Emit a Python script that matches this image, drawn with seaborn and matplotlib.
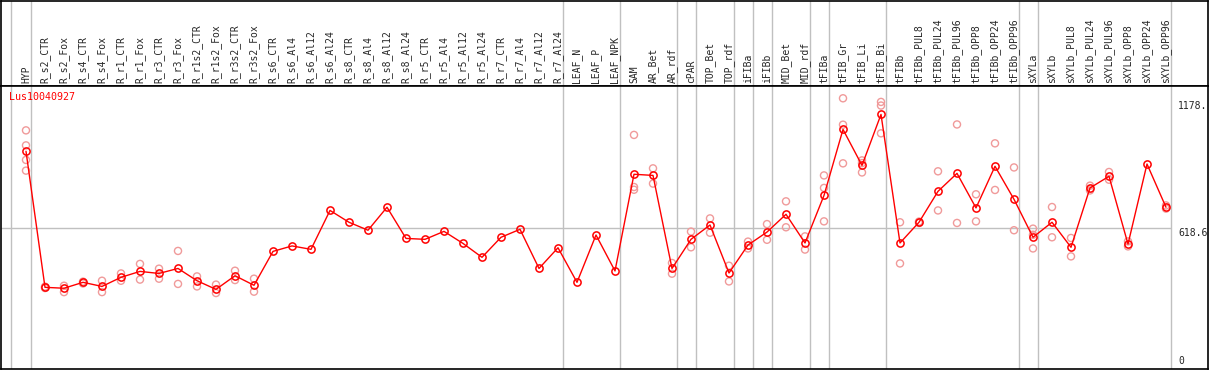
import pandas as pd
import matplotlib.pyplot as plt
import seaborn as sns

# sample names, left to right
samples = [
    "HYP",
    "R_s2_CTR", "R_s2_Fox", "R_s4_CTR", "R_s4_Fox", "R_r1_CTR", "R_r1_Fox",
    "R_r3_CTR", "R_r3_Fox", "R_r1s2_CTR", "R_r1s2_Fox", "R_r3s2_CTR", "R_r3s2_Fox",
    "R_s6_CTR", "R_s6_Al4", "R_s6_Al12", "R_s6_Al24",
    "R_s8_CTR", "R_s8_Al4", "R_s8_Al12", "R_s8_Al24",
    "R_r5_CTR", "R_r5_Al4", "R_r5_Al12", "R_r5_Al24",
    "R_r7_CTR", "R_r7_Al4", "R_r7_Al12", "R_r7_Al24",
    "LEAF_N", "LEAF_P", "LEAF_NPK",
    "SAM", "AR_Bet", "AR_rdf",
    "cPAR", "TOP_Bet", "TOP_rdf", "iFIBa", "iFIBb", "MID_Bet", "MID_rdf",
    "tFIBa", "tFIB_Gr", "tFIB_Li", "tFIB_Bi",
    "tFIBb", "tFIBb_PUL8", "tFIBb_PUL24", "tFIBb_PUL96",
    "tFIBb_OPP8", "tFIBb_OPP24", "tFIBb_OPP96",
    "sXYLa",
    "sXYLb", "sXYLb_PUL8", "sXYLb_PUL24", "sXYLb_PUL96",
    "sXYLb_OPP8", "sXYLb_OPP24", "sXYLb_OPP96",
]

# mean expression per sample
means = [
    957,
    359, 355, 381, 363, 403, 429, 420, 442, 388, 350, 410, 368,
    517, 541, 526, 697,
    645, 610, 711, 574,
    570, 605, 552, 491,
    579, 614, 442, 533,
    381, 589, 431,
    856, 851, 442,
    570, 633, 422, 545, 602, 680, 554,
    763, 1053, 895, 1119,
    554, 645, 781, 860, 708, 891, 746,
    579,
    645, 535, 796, 847, 549, 901, 711,
]

# replicate values (empty where none are shown)
reps = [
    [1049, 983, 919, 872],
    [362, 356], [366, 338], [384, 376], [388, 338], [420, 388], [462, 393],
    [441, 397], [519, 374], [407, 363], [371, 334], [432, 391], [397, 340],
    [], [], [], [],
    [], [], [], [],
    [], [], [], [],
    [], [], [], [],
    [], [], [],
    [1029, 800, 788], [882, 815], [466, 419],
    [604, 535], [662, 599], [454, 385], [560, 530], [637, 568], [737, 623], [583, 525],
    [851, 796, 649], [1190, 1074, 904], [917, 905, 864], [1174, 1158, 1036],
    [645, 464], [648, 642], [869, 697], [1075, 642], [768, 649], [992, 787], [886, 610],
    [617, 590, 530],
    [712, 579], [576, 495], [806, 785], [866, 832], [561, 539], [], [719, 705],
]

# how many samples in each block between the grey separators
group_sizes = [1, 28, 3, 3, 1, 2, 1, 1, 2, 1, 3, 7, 1, 7]

title = "Lus10040927"
mid_val = 618.6
top_label = "1178."

pos = list(range(len(samples)))
rep_df = pd.DataFrame(
    [(i, v) for i, vals in enumerate(reps) for v in vals], columns=["pos", "value"]
)

sns.set_style("white")
plt.rcParams["font.family"] = ["DejaVu Sans Mono", "DejaVu Sans"]

W, H = 1209, 370
fig = plt.figure(figsize=(W / 100, H / 100), dpi=100)
ax_top = fig.add_axes([1 / W, 284 / H, 1207 / W, 85 / H])
ax = fig.add_axes([1 / W, 1 / H, 1207 / W, 283 / H])

xmin = -25 / 19
xmax = xmin + 1207 / 19
grid_c = "#c0c0c0"

# separators
edges = [-0.8]
n = 0
for g in group_sizes:
    n += g
    edges.append(n - 1 + 0.25)

for a in (ax_top, ax):
    a.set_xlim(xmin, xmax)
    for e in edges:
        a.axvline(e, color=grid_c, lw=1, zorder=0)
    for s in a.spines.values():
        s.set_color("black")
        s.set_linewidth(1.2)

ax_top.set_ylim(0, 1)
ax_top.set_xticks([])
ax_top.set_yticks([])

ax.set_ylim(0, 1244)
ax.hlines(mid_val, xmin, edges[-1], color=grid_c, lw=1, zorder=0)

sns.scatterplot(data=rep_df, x="pos", y="value", ax=ax, marker="o", s=26,
                facecolor="none", edgecolor="#f09a9a", linewidth=1.0, zorder=2)
sns.lineplot(x=pos, y=means, ax=ax, color="red", lw=1, marker="o", markersize=5.2,
             markerfacecolor="none", markeredgecolor="red", markeredgewidth=1.1,
             zorder=3)

ax.xaxis.tick_top()
ax.set_xticks(pos)
ax.set_xticklabels(samples, rotation=90, fontsize=7)
ax.tick_params(axis="x", length=0, pad=2)
ax.set_yticks([])
ax.set_xlabel("")
ax.set_ylabel("")

ax.text(0.007, 0.962, title, transform=ax.transAxes, color="red", fontsize=7.2,
        ha="left", va="center")
xr = (1178 - 26) / 19
ax.text(xr, 1178, top_label, fontsize=7, ha="left", va="top")
ax.text(xr, mid_val, f"{mid_val}", fontsize=7, ha="left", va="top")
ax.text(xr, 12, "0", fontsize=7, ha="left", va="bottom")

fig.savefig("out.png", dpi=100)
